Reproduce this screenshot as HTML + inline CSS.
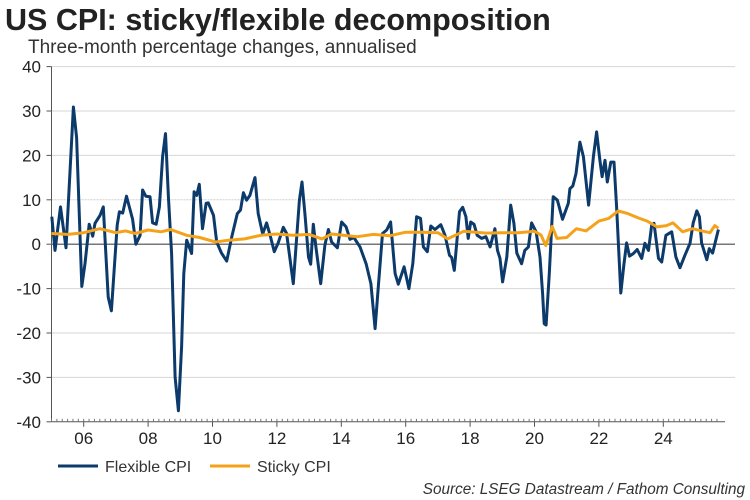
<!DOCTYPE html>
<html><head><meta charset="utf-8"><style>
body{margin:0;background:#fff;font-family:"Liberation Sans",Arial,sans-serif}
svg{display:block}
</style></head><body>
<svg id="chart" width="750" height="500">
<text x="5" y="30" font-size="30.5" font-weight="bold" fill="#222">US CPI: sticky/flexible decomposition</text>
<text x="28" y="53" font-size="19" fill="#333">Three-month percentage changes, annualised</text>
<g id="grid"></g><g id="axes"></g><g id="series"></g>
<g>
<line x1="58" y1="466" x2="98" y2="466" stroke="#0b3a6b" stroke-width="3"/>
<text x="105" y="472" font-size="16" fill="#333">Flexible CPI</text>
<line x1="210" y1="466" x2="250" y2="466" stroke="#f5a21b" stroke-width="3"/>
<text x="257" y="472" font-size="16" fill="#333">Sticky CPI</text>
</g>
<text x="745" y="494" font-size="15.3" font-style="italic" fill="#333" text-anchor="end">Source: LSEG Datastream / Fathom Consulting</text>
</svg>
<script>
const yTicks=[40,30,20,10,0,-10,-20,-30,-40];
const xTickYears=[2006,2008,2010,2012,2014,2016,2018,2020,2022,2024];
const xTickLabels=["06","08","10","12","14","16","18","20","22","24"];
const flexDates=[2005.01,2005.11,2005.28,2005.45,2005.68,2005.78,2005.94,2006.04,2006.17,2006.28,2006.35,2006.51,2006.61,2006.76,2006.86,2007.04,2007.11,2007.21,2007.33,2007.52,2007.62,2007.75,2007.83,2007.93,2008.06,2008.14,2008.25,2008.35,2008.45,2008.54,2008.63,2008.73,2008.84,2008.94,2009.04,2009.11,2009.2,2009.35,2009.43,2009.51,2009.59,2009.69,2009.8,2009.87,2010.03,2010.13,2010.28,2010.44,2010.6,2010.77,2010.87,2010.96,2011.06,2011.16,2011.32,2011.42,2011.56,2011.68,2011.79,2011.92,2012.04,2012.2,2012.3,2012.51,2012.7,2012.78,2012.87,2012.98,2013.05,2013.13,2013.21,2013.36,2013.49,2013.6,2013.7,2013.88,2014.01,2014.15,2014.27,2014.39,2014.58,2014.77,2014.92,2015.05,2015.15,2015.28,2015.41,2015.53,2015.67,2015.77,2015.95,2016.1,2016.22,2016.34,2016.46,2016.55,2016.67,2016.78,2016.91,2017.09,2017.22,2017.36,2017.43,2017.51,2017.67,2017.77,2017.87,2017.94,2018.02,2018.12,2018.22,2018.36,2018.49,2018.62,2018.77,2018.85,2018.93,2019.01,2019.14,2019.26,2019.36,2019.45,2019.6,2019.7,2019.81,2019.91,2020.05,2020.17,2020.25,2020.3,2020.36,2020.46,2020.58,2020.71,2020.87,2021.05,2021.1,2021.19,2021.29,2021.41,2021.52,2021.68,2021.83,2021.93,2022.03,2022.1,2022.19,2022.26,2022.37,2022.47,2022.55,2022.68,2022.78,2022.86,2022.95,2023.07,2023.19,2023.33,2023.43,2023.54,2023.64,2023.71,2023.85,2023.95,2024.08,2024.26,2024.39,2024.52,2024.67,2024.83,2024.93,2025.04,2025.12,2025.19,2025.35,2025.43,2025.53,2025.71];
const flexValues=[6.2,-1.4,8.4,-0.8,30.9,24,-9.5,-4.4,4.5,1.8,4.7,6.5,8.4,-11.9,-15,4.3,7.3,7,10.8,5.6,0,2,12.2,10.8,10.7,4.8,4.5,8.4,19.7,24.9,10.7,-2.1,-29.9,-37.5,-23.1,-6.6,0.9,-2.1,11.8,11,13.5,3.5,9.2,9.3,6.5,0.5,-2,-3.8,1.7,6.9,7.7,11.6,9.9,11,15,6.9,2.3,4.8,2,-1.7,0.3,3.8,2.4,-8.9,9.9,14,6.9,-2.9,-4.5,4.5,-0.6,-8.9,-0.2,3.3,0.5,-0.8,5,3.9,1.1,1.5,-0.6,-4.4,-8.9,-19,-9.6,2.4,3.2,5,-6.6,-9,-5.1,-10,-4.4,6.2,5.8,-0.6,-1.7,4.1,3.3,4.4,2,-2.5,-3,-5.9,7.3,8.3,6.2,1.3,5,4.5,2,1.3,1.7,-0.6,3.5,-1.4,-3.2,-8.5,-2.9,8.8,4.7,-2,-4.4,-1.4,-0.6,4.8,2.8,-2.9,-11.1,-17.9,-18.2,-6.6,10.7,9.9,5.6,9.2,12.5,13.1,15.9,23,19.7,8.8,19.7,25.3,18.9,15.2,18.9,14,18.5,18.5,8.4,-11,-4.4,0.3,-2.7,-2.1,-1.2,-3.2,0.2,-1.4,4.3,4.7,-3.2,-4,2,2.8,-2.9,-5.3,-2.5,0.2,4.8,7.5,6.2,0.3,-3.5,-1,-2,3.3];
const stickyDates=[2005.0,2005.5,2006.0,2006.5,2007.0,2007.3,2007.6,2008.0,2008.4,2008.7,2009.2,2009.6,2010.1,2010.5,2011.0,2011.5,2012.0,2012.5,2013.0,2013.4,2013.7,2014.5,2015.0,2015.5,2016.0,2016.5,2017.0,2017.3,2017.8,2018.5,2019.0,2019.5,2020.0,2020.2,2020.35,2020.55,2020.7,2021.0,2021.3,2021.6,2022.0,2022.3,2022.6,2022.9,2023.2,2023.5,2023.8,2024.1,2024.3,2024.6,2024.9,2025.2,2025.45,2025.6,2025.71];
const stickyValues=[2.4,2.2,2.6,3.5,2.6,3,2.4,3.2,2.8,3.3,2,1.5,0.5,0.9,1.2,2,2.3,2,2.2,1.2,2.3,1.7,2.2,1.9,2.7,2.7,2.6,1.2,2.9,2.5,2.6,2.6,2.9,2.1,-0.3,4,1.3,1.5,3.5,3,5.2,5.8,7.5,6.9,6,5.2,3.9,4.2,4.8,2.8,3.5,3,2.6,4.2,3.6];

const NS="http://www.w3.org/2000/svg";
const X0=51.5,PX_PER_YEAR=32.2,Y0=244.2,PX_PER_UNIT=4.44;
const xs=d=>X0+(d-2005)*PX_PER_YEAR;
const ys=v=>Y0-v*PX_PER_UNIT;
function mk(tag,attrs,parent){const e=document.createElementNS(NS,tag);for(const k in attrs)e.setAttribute(k,attrs[k]);parent.appendChild(e);return e;}
const grid=document.getElementById('grid'),axes=document.getElementById('axes'),series=document.getElementById('series');
yTicks.forEach(t=>{
  if(t!==0&&t!==-40){const g=mk('line',{x1:X0,x2:735,y1:ys(t),y2:ys(t),stroke:t===10?'#cfcfcf':'#d6d6d6','stroke-width':1,'stroke-dasharray':t===10?'2,1':'none'},grid);
  
  }
  const lb=mk('text',{x:41,y:ys(t)+6,'font-size':17,'text-anchor':'end',fill:'#222'},axes);
  lb.textContent=t;
  
  
  const tk=mk('line',{x1:X0-5,x2:X0,y1:ys(t),y2:ys(t),stroke:'#555'},axes);
  
  
});
const ya=mk('line',{x1:X0,x2:X0,y1:ys(40),y2:ys(-40),stroke:'#555','stroke-width':1},axes);


const zl=mk('line',{x1:X0,x2:735,y1:Y0,y2:Y0,stroke:'#777','stroke-width':1.5},axes);


const xa=mk('line',{x1:X0,x2:725,y1:ys(-40),y2:ys(-40),stroke:'#555'},axes);


for(let m=2005;m<=2025.76;m+=1/6){
  const mt=mk('line',{x1:xs(m),x2:xs(m),y1:ys(-40),y2:ys(-40)-3,stroke:'#777'},axes);
  
  
}
xTickYears.forEach((yr,i)=>{
  const tk=mk('line',{x1:xs(yr),x2:xs(yr),y1:ys(-40),y2:ys(-40)+5,stroke:'#555'},axes);
  
  
  const lb=mk('text',{x:xs(yr),y:ys(-40)+22,'font-size':17,'text-anchor':'middle',fill:'#222'},axes);
  lb.textContent=xTickLabels[i];
  
  
});
function drawLine(dates,vals,color,name){
  const p=mk('polyline',{points:dates.map((d,i)=>xs(d).toFixed(1)+','+ys(vals[i]).toFixed(1)).join(' '),fill:'none',stroke:color,'stroke-width':3,'stroke-linejoin':'round'},series);
  
  
}
drawLine(flexDates,flexValues,'#0b3a6b','flexible-cpi-line');
drawLine(stickyDates,stickyValues,'#f5a21b','sticky-cpi-line');
</script>
</body></html>
